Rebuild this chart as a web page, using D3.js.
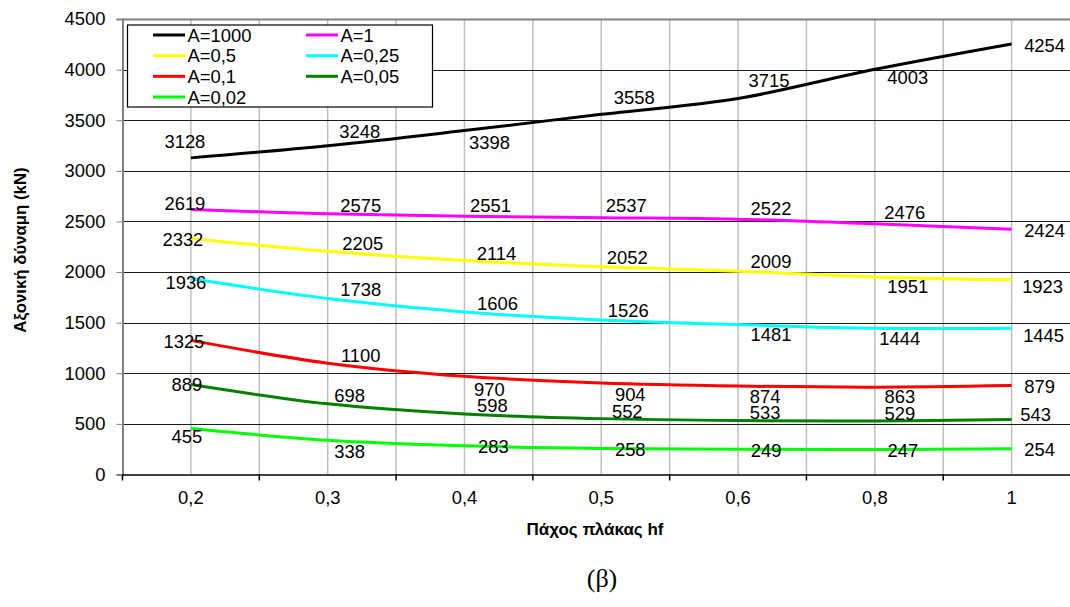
<!DOCTYPE html>
<html><head><meta charset="utf-8">
<script src="https://cdn.jsdelivr.net/npm/d3@7"></script>
<style>html,body{margin:0;padding:0;background:#fff;}svg{display:block;}</style>
</head><body>
<svg id="chart" width="1070" height="607"></svg>
<script>
// ---- data ----
const categories = ["0,2", "0,3", "0,4", "0,5", "0,6", "0,8", "1"];
const seriesNames = ["A=1000", "A=1", "A=0,5", "A=0,25", "A=0,1", "A=0,05", "A=0,02"];
const sA1000 = [3128, 3248, 3398, 3558, 3715, 4003, 4254];
const sA1    = [2619, 2575, 2551, 2537, 2522, 2476, 2424];
const sA05   = [2332, 2205, 2114, 2052, 2009, 1951, 1923];
const sA025  = [1936, 1738, 1606, 1526, 1481, 1444, 1445];
const sA01   = [1325, 1100, 970, 904, 874, 863, 879];
const sA005  = [889, 698, 598, 552, 533, 529, 543];
const sA002  = [455, 338, 283, 258, 249, 247, 254];
const yTicks = [0, 500, 1000, 1500, 2000, 2500, 3000, 3500, 4000, 4500];
const yTitle = "Αξονική δύναμη (kN)";
const xTitle = "Πάχος πλάκας hf";
const caption = "(β)";

// ---- styles / layout (kept separate from data) ----
const colors = ["#000000", "#ff00ff", "#ffff00", "#00ffff", "#ff0000", "#008000", "#00ff00"];
// label offsets (dx, dy of text centre from the point), per series, per category
const labelOffsets = [
  [[-6,-16],[32,-14],[25,12],[33,-17],[31,-18],[33,8],[33,1]],
  [[-6,-6],[33,-8],[26,-11],[25,-12],[33,-11],[30,-11],[33,1]],
  [[-8,1],[35,-8],[32,-7],[26,-9],[33,-10],[33,9],[31,7]],
  [[-5,4],[33,-9],[33,-9],[27,-10],[33,10],[25,10],[32,7]],
  [[-7,1],[33,-8],[25,13],[29,11],[27,10],[25,9],[28,1]],
  [[-4,0],[22,-8],[28,-9],[26,-7],[27,-8],[25,-8],[24,-5]],
  [[-4,8],[22,11],[29,1],[29,1],[28,1],[28,1],[28,1]]
];
const allSeries = [sA1000, sA1, sA05, sA025, sA01, sA005, sA002];

const svg = d3.select("#chart");
const pLeft = 122.5, pRight = 1080, pTop = 19, pBottom = 474.5;
const font = "'Liberation Sans', Arial, sans-serif";

const x = d3.scaleBand().domain(categories).range([pLeft, pRight]).padding(0);
const bw = x.bandwidth();
const cx = c => x(c) + bw / 2;
const y = d3.scaleLinear().domain([0, 4500]).range([pBottom, pTop]);

// vertical gridlines (band edges and centres)
const vlines = [];
categories.forEach(c => { vlines.push(x(c) + bw / 2); vlines.push(x(c) + bw); });
svg.append("g").selectAll("line").data(vlines).join("line")
  .attr("x1", d => d).attr("x2", d => d).attr("y1", pTop).attr("y2", pBottom)
  .attr("stroke", "#bfbfbf").attr("stroke-width", 1.5);

// horizontal gridlines
svg.append("g").selectAll("line").data(yTicks.filter(t => t > 0)).join("line")
  .attr("x1", pLeft).attr("x2", pRight).attr("y1", d => Math.round(y(d)) + 0.5).attr("y2", d => Math.round(y(d)) + 0.5)
  .attr("stroke", d => d === 4500 ? "#808080" : "#1a1a1a").attr("stroke-width", d => d === 4500 ? 2 : 1);

// y axis
const yAxis = svg.append("g").attr("transform", `translate(${pLeft},0)`)
  .call(d3.axisLeft(y).tickValues(yTicks).tickSize(6).tickPadding(11).tickFormat(d3.format("d")));
yAxis.select(".domain").attr("stroke", "#808080").attr("stroke-width", 2);
yAxis.selectAll(".tick line").attr("stroke", "#808080");
yAxis.selectAll("text").attr("font-family", font).attr("font-size", "18.4px").attr("fill", "#000");

// x axis
const xAxis = svg.append("g").attr("transform", `translate(0,${pBottom})`)
  .call(d3.axisBottom(x).tickSize(0).tickPadding(16));
xAxis.select(".domain").attr("stroke", "#000").attr("stroke-width", 1.5);
xAxis.selectAll("text").attr("font-family", font).attr("font-size", "18.4px").attr("fill", "#000");
const xEdges = [x(categories[0])].concat(categories.map(c => x(c) + bw));
svg.append("g").selectAll("line").data(xEdges).join("line")
  .attr("x1", d => d).attr("x2", d => d).attr("y1", pBottom).attr("y2", pBottom + 6)
  .attr("stroke", "#000").attr("stroke-width", 1.5);

// lines
const line = d3.line().x((d, i) => cx(categories[i])).y(d => y(d)).curve(d3.curveCardinal.tension(0));
svg.append("g").selectAll("path").data(allSeries).join("path")
  .attr("d", d => line(d)).attr("fill", "none")
  .attr("stroke", (d, i) => colors[i]).attr("stroke-width", 3).attr("stroke-linejoin", "round");

// data labels
allSeries.forEach((s, si) => {
  svg.append("g").selectAll("text").data(s).join("text")
    .attr("x", (d, i) => cx(categories[i]) + labelOffsets[si][i][0])
    .attr("y", (d, i) => y(d) + labelOffsets[si][i][1] + 6.6)
    .attr("text-anchor", "middle")
    .attr("font-family", font).attr("font-size", "18.4px").attr("fill", "#000")
    .text(d => d);
});

// legend
const lg = svg.append("g");
lg.append("rect").attr("x", 127.5).attr("y", 25).attr("width", 305).attr("height", 82)
  .attr("fill", "#fff").attr("stroke", "#000").attr("stroke-width", 1.2);
const rowY = [35, 55.7, 76.3, 97];
seriesNames.forEach((n, i) => {
  const col = i % 2, row = Math.floor(i / 2);
  const lx = col === 0 ? 153 : 306;
  lg.append("line").attr("x1", lx).attr("x2", lx + 32).attr("y1", rowY[row]).attr("y2", rowY[row])
    .attr("stroke", colors[i]).attr("stroke-width", 3);
  lg.append("text").attr("x", lx + 34.5).attr("y", rowY[row] + 6.6)
    .attr("font-family", font).attr("font-size", "18.4px").attr("fill", "#000").text(n);
});

// axis titles
svg.append("text").attr("transform", "translate(25.5,250) rotate(-90)")
  .attr("text-anchor", "middle").attr("font-family", font).attr("font-weight", "bold")
  .attr("font-size", "16.8px").attr("fill", "#000").text(yTitle);
svg.append("text").attr("x", 595).attr("y", 534.5)
  .attr("text-anchor", "middle").attr("font-family", font).attr("font-weight", "bold")
  .attr("font-size", "17px").attr("fill", "#000").text(xTitle);
svg.append("text").attr("x", 602).attr("y", 587)
  .attr("text-anchor", "middle").attr("font-family", "'Liberation Serif', 'Times New Roman', serif")
  .attr("font-size", "26px").attr("fill", "#000").text(caption);
</script>
</body></html>
